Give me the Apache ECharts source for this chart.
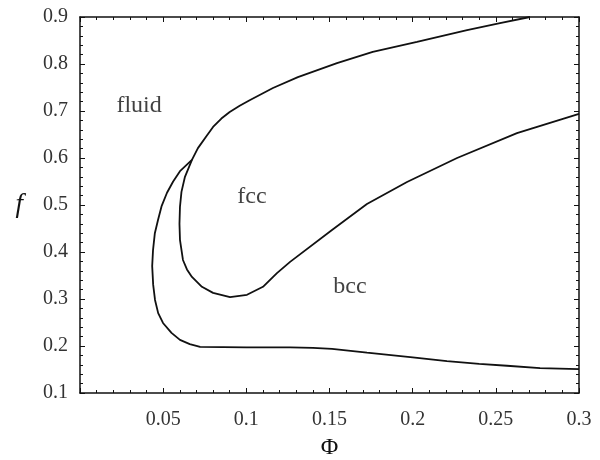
<!DOCTYPE html>
<html>
<head>
<meta charset="utf-8">
<script src="https://cdn.jsdelivr.net/npm/echarts@6/dist/echarts.min.js"></script>
<style>
  html, body { margin: 0; padding: 0; background: #fff; }
  #chart { width: 600px; height: 460px; }
</style>
</head>
<body>
<div id="chart"></div>
<script>
// fluid / solid boundary (from the triple point down and along the bottom)
const fluidLine = [
  [0.0673, 0.596], [0.0601, 0.572], [0.0560, 0.550], [0.0523, 0.526],
  [0.0490, 0.497], [0.0469, 0.468], [0.0450, 0.440], [0.0439, 0.404],
  [0.0434, 0.370], [0.0440, 0.330], [0.0451, 0.298], [0.0470, 0.270],
  [0.0499, 0.249], [0.0550, 0.228], [0.0601, 0.213], [0.0660, 0.204],
  [0.0722, 0.198], [0.1000, 0.197], [0.1263, 0.197], [0.1400, 0.196],
  [0.1515, 0.194], [0.1725, 0.186], [0.2000, 0.176], [0.2206, 0.168],
  [0.2400, 0.162], [0.2567, 0.158], [0.2766, 0.153], [0.3000, 0.151]
]
// fcc region boundary (upper branch, then down and back up to the right)
const fccLine = [
  [0.2705, 0.900], [0.2525, 0.887], [0.2327, 0.872], [0.2026, 0.847],
  [0.1760, 0.826], [0.1545, 0.802], [0.1310, 0.772], [0.1160, 0.749],
  [0.1020, 0.723], [0.0960, 0.711], [0.0900, 0.698], [0.0850, 0.684],
  [0.0800, 0.666], [0.0763, 0.648], [0.0709, 0.621], [0.0673, 0.596],
  [0.0631, 0.560], [0.0610, 0.528], [0.0601, 0.496], [0.0598, 0.460],
  [0.0601, 0.426], [0.0619, 0.383], [0.0643, 0.363], [0.0673, 0.347],
  [0.0733, 0.326], [0.0800, 0.313], [0.0902, 0.304], [0.1004, 0.309],
  [0.1100, 0.326], [0.1184, 0.355], [0.1263, 0.379], [0.1515, 0.447],
  [0.1725, 0.502], [0.1966, 0.549], [0.2267, 0.600], [0.2627, 0.653],
  [0.3000, 0.694]
]
// phase labels
const phaseLabels = [
  { name: 'fluid', value: [0.0355, 0.711] },
  { name: 'fcc', value: [0.1034, 0.517] },
  { name: 'bcc', value: [0.1623, 0.326] }
]
const xTicks = [0.05, 0.1, 0.15, 0.2, 0.25, 0.3]

const font = 'Liberation Serif'
const ink = '#111'

const chart = echarts.init(document.getElementById('chart'))

const tickStyle = {
  axisLine: { show: true, onZero: false, lineStyle: { color: ink, width: 1.5 } },
  axisTick: { show: true, inside: true, length: 5, lineStyle: { color: ink, width: 1 } },
  minorTick: { show: true, splitNumber: 5, length: 3, lineStyle: { color: ink, width: 1 } },
  splitLine: { show: false }
}

chart.setOption({
  animation: false,
  backgroundColor: '#fff',
  grid: { left: 80, right: 21, top: 17, bottom: 67, outerBoundsMode: 'none', containLabel: false },
  xAxis: [
    Object.assign({
      type: 'value', min: 0, max: 0.3, interval: 0.05,
      name: 'Φ', nameLocation: 'middle', nameGap: 43,
      nameTextStyle: { fontFamily: font, fontSize: 24, color: ink },
      axisLabel: {
        margin: 17, fontFamily: font, fontSize: 20, color: '#333',
        formatter: function (v) {
          for (let t of xTicks) if (Math.abs(v - t) < 1e-6) return String(t)
          return ''
        }
      }
    }, tickStyle),
    Object.assign({
      type: 'value', position: 'top', min: 0, max: 0.3, interval: 0.05,
      axisLabel: { show: false }
    }, tickStyle)
  ],
  yAxis: [
    Object.assign({
      type: 'value', min: 0.1, max: 0.9, interval: 0.1,
      name: 'f', nameLocation: 'middle', nameGap: 57, nameRotate: 0,
      nameTextStyle: { fontFamily: font, fontSize: 27, fontStyle: 'italic', color: ink },
      axisLabel: {
        margin: 12, fontFamily: font, fontSize: 20, color: '#333',
        formatter: function (v) { return v.toFixed(1) }
      }
    }, tickStyle),
    Object.assign({
      type: 'value', position: 'right', min: 0.1, max: 0.9, interval: 0.1,
      axisLabel: { show: false }
    }, tickStyle)
  ],
  series: [
    {
      type: 'line', data: fluidLine, symbol: 'none', silent: true,
      lineStyle: { color: ink, width: 1.8 }
    },
    {
      type: 'line', data: fccLine, symbol: 'none', silent: true,
      lineStyle: { color: ink, width: 1.8 }
    },
    {
      type: 'scatter', data: phaseLabels, symbolSize: 0, silent: true,
      label: {
        show: true, position: 'inside', formatter: '{b}',
        fontFamily: font, fontSize: 24, color: ink
      }
    }
  ]
})
</script>
</body>
</html>
